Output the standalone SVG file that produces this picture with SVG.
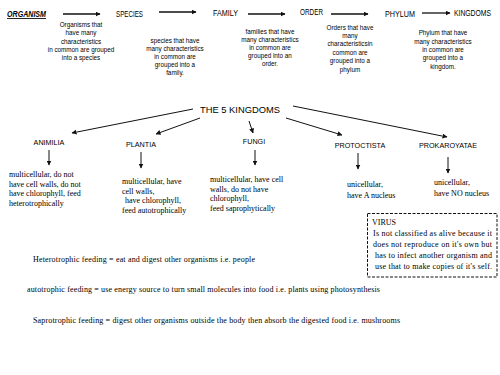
<svg xmlns="http://www.w3.org/2000/svg" width="500" height="375" viewBox="0 0 500 375">
<style>
.lbl{font-family:"Liberation Sans",Arial,sans-serif;font-size:8.5px;fill:#000}
.klbl{font-family:"Liberation Sans",Arial,sans-serif;font-size:7.2px;fill:#000;text-anchor:middle}
.desc{font-family:"Liberation Sans",Arial,sans-serif;font-size:6.3px;fill:#000;text-anchor:middle}
.body{font-family:"Liberation Serif","Times New Roman",serif;font-size:8px;fill:#000}
.ar{stroke:#111;stroke-width:1.3;fill:none}
.ar2{stroke:#111;stroke-width:1;fill:none}
</style>
<defs>
<marker id="ah" viewBox="0 0 10 10" refX="9" refY="5" markerWidth="5" markerHeight="5" markerUnits="userSpaceOnUse" orient="auto"><path d="M0,0 L10,5 L0,10 z" fill="#111"/></marker>
<marker id="ah2" viewBox="0 0 10 10" refX="9" refY="5" markerWidth="5" markerHeight="5" markerUnits="userSpaceOnUse" orient="auto"><path d="M0,0 L10,5 L0,10 z" fill="#111"/></marker>
</defs>
<rect width="500" height="375" fill="#fff"/>

<g id="connectors">
<line class="ar" x1="63" y1="14" x2="100" y2="14" marker-end="url(#ah)"/>
<line class="ar" x1="159" y1="12" x2="196" y2="12" marker-end="url(#ah)"/>
<line class="ar" x1="248" y1="14" x2="285" y2="14" marker-end="url(#ah)"/>
<line class="ar" x1="331" y1="14" x2="368" y2="14" marker-end="url(#ah)"/>
<line class="ar" x1="422" y1="13" x2="450" y2="13" marker-end="url(#ah)"/>
<line class="ar2" x1="193" y1="109" x2="72" y2="133" marker-end="url(#ah2)"/>
<line class="ar2" x1="200" y1="118" x2="156" y2="134" marker-end="url(#ah2)"/>
<line class="ar2" x1="249" y1="121" x2="253" y2="133" marker-end="url(#ah2)"/>
<line class="ar2" x1="286" y1="118" x2="342" y2="135" marker-end="url(#ah2)"/>
<line class="ar2" x1="293" y1="106" x2="447" y2="137" marker-end="url(#ah2)"/>
<line class="ar2" x1="49" y1="150" x2="49" y2="165" marker-end="url(#ah2)"/>
<line class="ar2" x1="141" y1="152" x2="141" y2="168" marker-end="url(#ah2)"/>
<line class="ar2" x1="255" y1="150" x2="255" y2="165" marker-end="url(#ah2)"/>
<line class="ar2" x1="358" y1="153" x2="358" y2="169" marker-end="url(#ah2)"/>
<line class="ar2" x1="448" y1="157" x2="448" y2="173" marker-end="url(#ah2)"/>
</g>

<g id="organism">
<text class="lbl" x="7" y="17" font-weight="bold" font-style="italic" text-decoration="underline" textLength="39" lengthAdjust="spacingAndGlyphs">ORGANISM</text>
<text class="desc" x="81" y="27">Organisms that</text>
<text class="desc" x="81" y="35">have many</text>
<text class="desc" x="81" y="44">characteristics</text>
<text class="desc" x="81" y="52">in common are grouped</text>
<text class="desc" x="81" y="60">into a species</text>
</g>

<g id="species">
<text class="lbl" x="116" y="17" textLength="27" lengthAdjust="spacingAndGlyphs">SPECIES</text>
<text class="desc" x="175" y="43">species that have</text>
<text class="desc" x="175" y="51">many characteristics</text>
<text class="desc" x="175" y="59">in common are</text>
<text class="desc" x="175" y="67">grouped into a</text>
<text class="desc" x="175" y="75">family.</text>
</g>

<g id="family">
<text class="lbl" x="213" y="16" textLength="25" lengthAdjust="spacingAndGlyphs">FAMILY</text>
<text class="desc" x="270" y="34">families that have</text>
<text class="desc" x="270" y="42">many characteristics</text>
<text class="desc" x="270" y="50">in common are</text>
<text class="desc" x="270" y="58">grouped into an</text>
<text class="desc" x="270" y="66">order.</text>
</g>

<g id="order">
<text class="lbl" x="300" y="15" textLength="23" lengthAdjust="spacingAndGlyphs">ORDER</text>
<text class="desc" x="350" y="30">Orders that have</text>
<text class="desc" x="350" y="38">many</text>
<text class="desc" x="350" y="46">characteristicsin</text>
<text class="desc" x="350" y="55">common are</text>
<text class="desc" x="350" y="63">grouped into a</text>
<text class="desc" x="350" y="72">phylum</text>
</g>

<g id="phylum">
<text class="lbl" x="385" y="17" textLength="30" lengthAdjust="spacingAndGlyphs">PHYLUM</text>
<text class="desc" x="443" y="35">Phylum that have</text>
<text class="desc" x="443" y="44">many characteristics</text>
<text class="desc" x="443" y="52">in common are</text>
<text class="desc" x="443" y="60">grouped into a</text>
<text class="desc" x="443" y="69">kingdom.</text>
</g>

<g id="kingdoms">
<text class="lbl" x="454" y="16" textLength="37" lengthAdjust="spacingAndGlyphs">KINGDOMS</text>
</g>

<g id="title">
<text class="lbl" x="200" y="113" font-size="11" textLength="80" lengthAdjust="spacingAndGlyphs">THE 5  KINGDOMS</text>
</g>

<g id="animilia">
<text class="klbl" x="49" y="145">ANIMILIA</text>
<text class="body" x="9" y="177">multicellular,  do not</text>
<text class="body" x="9" y="186.5">have cell walls, do not</text>
<text class="body" x="9" y="196">have chlorophyll,  feed</text>
<text class="body" x="9" y="205.5">heterotrophically</text>
</g>

<g id="plantia">
<text class="klbl" x="141" y="147">PLANTIA</text>
<text class="body" x="122" y="184">multicellular,  have</text>
<text class="body" x="122" y="193.5">cell walls,</text>
<text class="body" x="125" y="203">have chlorophyll,</text>
<text class="body" x="122" y="212.5">feed autotrophically</text>
</g>

<g id="fungi">
<text class="klbl" x="254" y="144">FUNGI</text>
<text class="body" x="210" y="182">multicellular,  have cell</text>
<text class="body" x="210" y="191.5">walls,  do not have</text>
<text class="body" x="210" y="201">chlorophyll,</text>
<text class="body" x="210" y="210.5">feed saprophytically</text>
</g>

<g id="protoctista">
<text class="klbl" x="360" y="148">PROTOCTISTA</text>
<text class="body" x="347" y="187">unicellular,</text>
<text class="body" x="347" y="198">have A nucleus</text>
</g>

<g id="prokaroyatae">
<text class="klbl" x="448" y="148">PROKAROYATAE</text>
<text class="body" x="434" y="185">unicellular,</text>
<text class="body" x="434" y="196">have NO nucleus</text>
</g>

<g id="virus">
<rect x="367.5" y="213.5" width="129.5" height="63.5" fill="none" stroke="#111" stroke-width="1" stroke-dasharray="3,1.5"/>
<text class="body" x="372" y="225">VIRUS</text>
<text class="body" x="373" y="236" textLength="119" lengthAdjust="spacing">Is not classified  as alive  because it</text>
<text class="body" x="373" y="247" textLength="119" lengthAdjust="spacing">does not reproduce on it's  own but</text>
<text class="body" x="375" y="258" textLength="117" lengthAdjust="spacing">has to infect  another organism  and</text>
<text class="body" x="375" y="269" textLength="117" lengthAdjust="spacing">use that to make copies of it's self.</text>
</g>

<g id="notes">
<text class="body" x="33" y="262" textLength="222" lengthAdjust="spacing">Heterotrophic  feeding  = eat and digest  other organisms   i.e. people</text>
<text class="body" x="27" y="292" textLength="353" lengthAdjust="spacing">autotrophic  feeding  = use energy source to turn small  molecules  into food  i.e. plants  using  photosynthesis</text>
<text class="body" x="33" y="323" textLength="367" lengthAdjust="spacing">Saprotrophic  feeding  =  digest  other organisms  outside  the  body then  absorb the  digested  food   i.e. mushrooms</text>
</g>
</svg>
